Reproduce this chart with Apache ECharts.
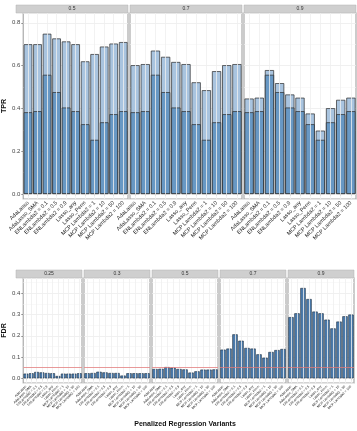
<!DOCTYPE html>
<html>
<head>
<meta charset="utf-8">
<script src="https://cdn.jsdelivr.net/npm/echarts@6/dist/echarts.min.js"></script>
<style>
  html, body { margin: 0; padding: 0; background: #fff; }
  #chart { width: 357px; height: 431px; }
</style>
</head>
<body>
<div id="chart"></div>
<script>
const methods = ['AdaLasso', 'AdaLasso_SMA', 'ENLambda2 = 0.1', 'ENLambda2 = 0.5', 'ENLambda2 = 0.9',
  'Lasso_any', 'Lasso_Perm', 'MCP Lambda2 = 1', 'MCP Lambda2 = 10', 'MCP Lambda2 = 50', 'MCP Lambda2 = 100'];

// top chart: light bars per threshold, dark bars are the same in every panel
const topPanels = ['0.5', '0.7', '0.9'];
const light05 = [0.70, 0.70, 0.749, 0.727, 0.713, 0.70, 0.62, 0.654, 0.689, 0.703, 0.71];
const light07 = [0.602, 0.607, 0.67, 0.641, 0.617, 0.607, 0.522, 0.485, 0.574, 0.602, 0.607];
const light09 = [0.446, 0.45, 0.579, 0.518, 0.465, 0.45, 0.376, 0.296, 0.401, 0.44, 0.45];
const darkVals = [0.382, 0.387, 0.557, 0.476, 0.404, 0.387, 0.326, 0.253, 0.335, 0.373, 0.387];

// bottom chart: FDR per threshold
const botPanels = ['0.25', '0.3', '0.5', '0.7', '0.9'];
const fdr025 = [0.022, 0.024, 0.030, 0.028, 0.025, 0.024, 0.011, 0.022, 0.022, 0.022, 0.024];
const fdr03 = [0.024, 0.025, 0.031, 0.028, 0.025, 0.025, 0.013, 0.024, 0.024, 0.024, 0.024];
const fdr05 = [0.044, 0.045, 0.053, 0.05, 0.044, 0.042, 0.027, 0.033, 0.041, 0.041, 0.042];
const fdr07 = [0.135, 0.14, 0.207, 0.177, 0.143, 0.14, 0.113, 0.097, 0.124, 0.133, 0.138];
const fdr09 = [0.288, 0.306, 0.425, 0.373, 0.314, 0.306, 0.276, 0.235, 0.267, 0.292, 0.30];
const fdrLevel = 0.05;

const topLight = [light05, light07, light09];
const botFdr = [fdr025, fdr03, fdr05, fdr07, fdr09];

const chart = echarts.init(document.getElementById('chart'), null, { renderer: 'canvas' });

const grids = [], xAxes = [], yAxes = [], series = [], graphics = [];
const FONT = 'Liberation Sans, Arial, sans-serif';

function addPanel(left, top, width, height, label, yMin, yMax, showY, yName, labelSize) {
  const idx = grids.length;
  grids.push({ left, top, width, height, show: true, backgroundColor: '#fff',
    borderColor: '#aaaaaa', borderWidth: 1.2, containLabel: false });
  xAxes.push({
    type: 'category', gridIndex: idx, data: methods,
    axisLine: { show: false },
    axisTick: { show: true, alignWithLabel: true, length: 2, lineStyle: { color: '#555', width: 0.6 } },
    axisLabel: { interval: 0, rotate: 45, fontSize: labelSize, color: '#222', fontFamily: FONT, margin: 3 },
    splitLine: { show: false }
  });
  yAxes.push({
    type: 'value', gridIndex: idx, min: yMin, max: yMax, splitNumber: 5,
    name: showY ? yName : '', nameLocation: 'middle', nameGap: 14.5,
    nameTextStyle: { fontSize: 7, fontWeight: 'bold', color: '#111', fontFamily: FONT },
    axisLine: { show: false },
    axisTick: { show: showY, length: 2, lineStyle: { color: '#555', width: 0.6 } },
    axisLabel: { show: showY, fontSize: 6, color: '#444', fontFamily: FONT, margin: 3,
      showMinLabel: false, showMaxLabel: false, formatter: v => v.toFixed(1) },
    splitLine: { show: true, lineStyle: { color: '#ececec', width: 0.8 } },
    minorTick: { show: false, splitNumber: 2 },
    minorSplitLine: { show: true, lineStyle: { color: '#f5f5f5', width: 0.6 } }
  });
  // vertical grid lines at category centres
  series.push({
    type: 'line', xAxisIndex: idx, yAxisIndex: idx, data: [], silent: true, z: 1,
    markLine: { silent: true, symbol: 'none', label: { show: false },
      lineStyle: { color: '#efefef', width: 0.8, type: 'solid' },
      data: methods.map(m => ({ xAxis: m })) }
  });
  // strip
  graphics.push({ type: 'rect', shape: { x: left, y: top - 8, width: width, height: 8 },
    style: { fill: '#cfcfcf', stroke: '#b3b3b3', lineWidth: 0.5 } });
  graphics.push({ type: 'text', x: left + width / 2, y: top - 4,
    style: { text: label, fontSize: 5, fill: '#333', fontFamily: FONT, align: 'center', verticalAlign: 'middle' } });
  return idx;
}

// top chart
topPanels.forEach((p, i) => {
  const idx = addPanel(16 + i * 114, 13, 112, 186, p, -0.0235, 0.846, i === 0, 'TPR', 5.5);
  series.push({
    type: 'bar', xAxisIndex: idx, yAxisIndex: idx, data: topLight[i], barWidth: '90%', barGap: '-100%', z: 2,
    itemStyle: { color: '#a9c4df', borderColor: '#2b2b2b', borderWidth: 0.7 }
  });
  series.push({
    type: 'bar', xAxisIndex: idx, yAxisIndex: idx, data: darkVals, barWidth: '90%', barGap: '-100%', z: 3,
    itemStyle: { color: '#6898c4', borderColor: '#2b2b2b', borderWidth: 0.7 }
  });
});

// bottom chart
botPanels.forEach((p, i) => {
  const idx = addPanel(16 + i * 68, 278, 66, 105, p, -0.022, 0.472, i === 0, 'FDR', 3.4);
  series.push({
    type: 'bar', xAxisIndex: idx, yAxisIndex: idx, data: botFdr[i], barWidth: '90%', z: 2,
    itemStyle: { color: '#4b7aab', borderColor: '#1f2f40', borderWidth: 0.6 },
    markLine: { silent: true, symbol: 'none', label: { show: false }, z: 5,
      lineStyle: { color: 'rgba(226,120,120,0.75)', width: 1, type: 'solid' },
      data: [{ yAxis: fdrLevel }] }
  });
});

graphics.push({ type: 'text', x: 185, y: 424,
  style: { text: 'Penalized Regression Variants', fontSize: 7, fontWeight: 'bold', fill: '#111',
    fontFamily: FONT, align: 'center', verticalAlign: 'middle' } });

chart.setOption({
  animation: false,
  backgroundColor: '#fff',
  grid: grids,
  xAxis: xAxes,
  yAxis: yAxes,
  series: series,
  graphic: graphics
});
</script>
</body>
</html>
